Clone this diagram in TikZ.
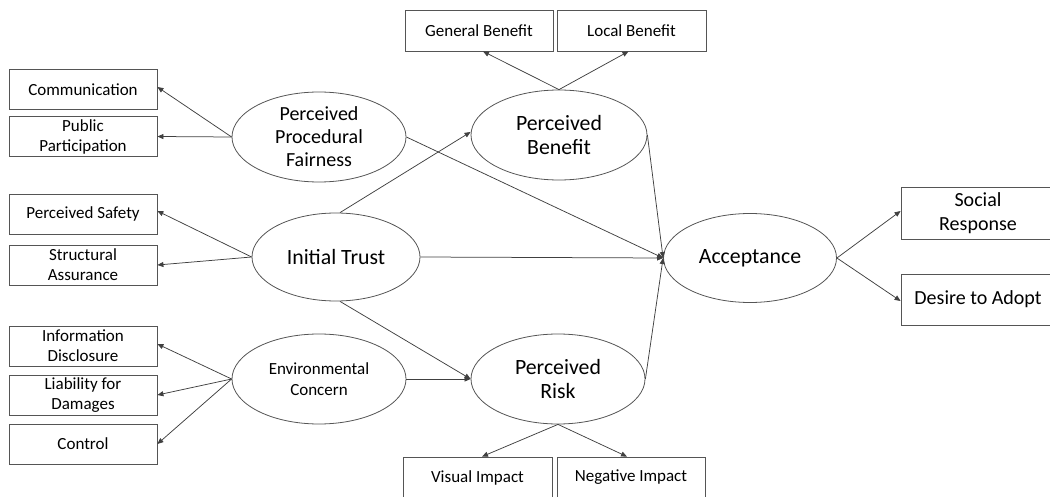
\documentclass[tikz,border=0pt]{standalone}
\usepackage{fontspec}
\setmainfont{Carlito}
\usetikzlibrary{shapes.geometric,arrows.meta}
\definecolor{edgec}{HTML}{404040}
\definecolor{shapec}{HTML}{555555}
\begin{document}
\begin{tikzpicture}[x=1pt,y=-1pt,
  box/.style={draw=shapec,line width=0.8pt,rectangle,inner sep=0pt,minimum width=148pt,minimum height=40pt,align=center,font=\fontsize{17}{20}\selectfont},
  lat/.style={draw=shapec,line width=0.8pt,ellipse,inner sep=0pt},
  conn/.style={draw=edgec,line width=0.75pt,-{Triangle[length=6pt,width=5pt]}},
  ttl/.style={align=center}
]
\useasboundingbox (0,0) rectangle (1050,497);
\clip (0,0) rectangle (1050,497);
% indicator boxes
\node[box] (com) at (83,89.5) {Communication};
\node[box] (pp)  at (83,136.5) {Public\\Participation};
\node[box] (ps)  at (83,214) {Perceived Safety};
\node[box] (sa)  at (83,265) {Structural\\Assurance};
\node[box] (id)  at (83,346) {Information\\Disclosure};
\node[box] (lfd) at (83,395) {Liability for\\Damages};
\node[box] (ctl) at (83,444) {Control};
\node[box,minimum height=41pt] (gb) at (479,30.5) {General Benefit};
\node[box,minimum height=41pt,minimum width=149pt] (lb) at (631.5,30.5) {Local Benefit};
\node[box,minimum height=41pt,minimum width=149pt] (vi) at (477.5,477.5) {Visual Impact};
\node[box,minimum height=41pt] (ni) at (631,477.5) {Negative Impact};
\node[box,minimum width=154pt,minimum height=52pt,font=\fontsize{20}{24}\selectfont] (sr) at (978,213) {Social\\Response};
\node[box,minimum width=154pt,minimum height=51pt,font=\fontsize{20}{24}\selectfont] (dta) at (978,299.5) {Desire to Adopt};
% latent variables
\node[lat,minimum width=174pt,minimum height=90pt,
  label={[ttl,font=\fontsize{20}{23}\selectfont]center:Perceived\\Procedural\\Fairness}] (ppf) at (319,137) {};
\node[lat,minimum width=176pt,minimum height=90pt,
  label={[ttl,font=\fontsize{21.8}{24}\selectfont]center:Perceived\\Benefit}] (pb) at (559,135) {};
\node[lat,minimum width=168pt,minimum height=88pt,
  label={[ttl,font=\fontsize{21.8}{24}\selectfont]center:Initial Trust}] (it) at (336,257) {};
\node[lat,minimum width=174pt,minimum height=90pt,
  label={[ttl,font=\fontsize{17}{21}\selectfont]center:Environmental\\Concern}] (ec) at (319,379) {};
\node[lat,minimum width=174pt,minimum height=90pt,
  label={[ttl,font=\fontsize{21.8}{24}\selectfont]center:Perceived\\Risk}] (pr) at (558,379) {};
\node[lat,minimum width=173pt,minimum height=89pt,
  label={[ttl,font=\fontsize{21.8}{24}\selectfont]center:Acceptance}] (acc) at (750,258) {};
% connectors
\draw[conn] (ppf.west) -- ([yshift=2.5pt]com.east);
\draw[conn] (ppf.west) -- (pp.east);
\draw[conn] (it.west) -- ([yshift=3pt]ps.east);
\draw[conn] (it.west) -- (sa.east);
\draw[conn] (ec.west) -- ([yshift=2pt]id.east);
\draw[conn] (ec.west) -- (lfd.east);
\draw[conn] (ec.west) -- (ctl.east);
\draw[conn] (pb.north) -- ([xshift=4pt]gb.south);
\draw[conn] (pb.north) -- ([xshift=-3pt]lb.south);
\draw[conn] (pr.south) -- ([xshift=4.5pt]vi.north);
\draw[conn] (pr.south) -- ([xshift=-4pt]ni.north);
\draw[conn] ([xshift=4pt]it.north) -- ([yshift=3pt]pb.west);
\draw[conn] ([xshift=4pt]it.south) -- (pr.west);
\draw[conn] (ec.east) -- (pr.west);
\draw[conn] (ppf.east) -- (acc.west);
\draw[conn] (it.east) -- (acc.west);
\draw[conn] (pb.east) -- (acc.west);
\draw[conn] (pr.east) -- (acc.west);
\draw[conn] (acc.east) -- ([yshift=2pt]sr.west);
\draw[conn] (acc.east) -- ([yshift=-1.5pt]dta.west);
\end{tikzpicture}
\end{document}
